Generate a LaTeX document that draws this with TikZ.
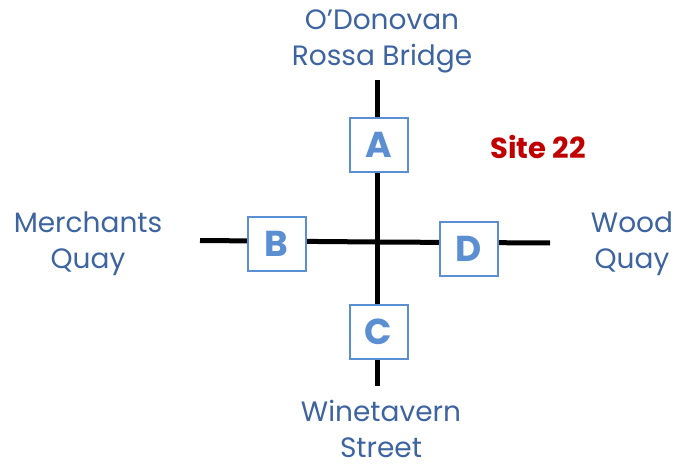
\documentclass[tikz,border=0pt]{standalone}
\usepackage{fontspec}
\setmainfont{Poppins}
\usetikzlibrary{positioning}

\begin{document}
\begin{tikzpicture}[x=1pt, y=-1pt]
    % Define colours
    \definecolor{roadColour}{HTML}{000000}
    \definecolor{boxColour}{HTML}{5B8FD2}
    \definecolor{labelColour}{HTML}{3D64A0}
    \definecolor{siteColour}{HTML}{C00000}

    % Styles
    \tikzset{
        road/.style={draw=roadColour, line width=5pt},
        approach/.style={draw=boxColour, line width=2pt, fill=white, text=boxColour,
            minimum width=58pt, minimum height=54pt, inner sep=0pt,
            font=\fontsize{36}{36}\selectfont\bfseries},
        street/.style={text=labelColour, align=center, inner sep=0pt,
            font=\fontsize{28}{36}\selectfont}
    }

    % Fix picture size
    \useasboundingbox (0,0) rectangle (682,465);

    % Road ends and junction
    \coordinate (north) at (377,80);
    \coordinate (south) at (377,386);
    \coordinate (west) at (200,240.5);
    \coordinate (east) at (550,243);
    \coordinate (junction) at (377,242);

    % Draw roads
    \draw[road] (north) -- (south);
    \draw[road] (west) -- (junction) -- (east);

    % Draw approach boxes
    \node[approach] (A) at (379,145) {A};
    \node[approach] (B) at (276.5,244) {B};
    \node[approach] (C) at (378.5,331.5) {C};
    \node[approach] (D) at (469,248.5) {D};

    % Street names
    \node[street] (bridge) at (382,41) {O'Donovan\\Rossa Bridge};
    \node[street] (merchants) at (88,244) {Merchants\\Quay};
    \node[street] (wood) at (632,244) {Wood\\Quay};
    \node[street] (winetavern) at (381,429) {Winetavern\\Street};

    % Site label
    \node[text=siteColour, font=\fontsize{29}{29}\selectfont\bfseries] (site) at (538,147) {Site 22};

\end{tikzpicture}
\end{document}
